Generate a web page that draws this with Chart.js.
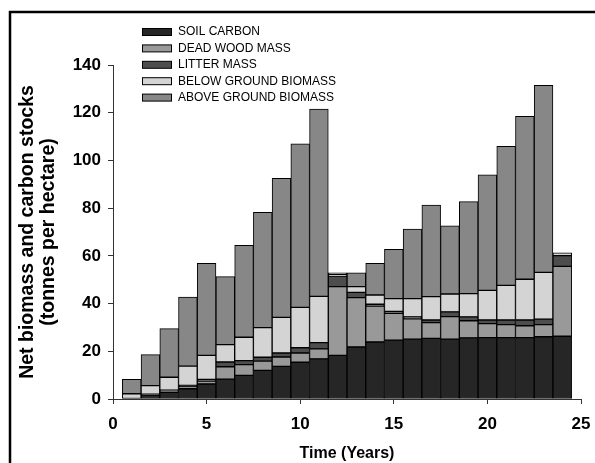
<!DOCTYPE html>
<html>
<head>
<meta charset="utf-8">
<script src="https://cdn.jsdelivr.net/npm/chart.js@4.4.1/dist/chart.umd.min.js"></script>
<style>
  html, body { margin: 0; padding: 0; background: #fff; }
  #wrap { position: relative; width: 595px; height: 463px; }
</style>
</head>
<body>
<div id="wrap"><canvas id="c" width="595" height="463"></canvas></div>
<script>
// ---- Data (tonnes per hectare) ----
const years = [1,2,3,4,5,6,7,8,9,10,11,12,13,14,15,16,17,18,19,20,21,22,23,24];
const soilCarbon = [0,1.6,2.8,4.3,6.3,8.3,9.9,12.0,13.7,15.4,16.8,18.3,21.8,23.9,24.7,25.1,25.4,25.1,25.6,25.7,25.7,25.7,26.1,26.3];
const deadWoodMass = [0,0,0.4,0.9,1.2,5.2,4.5,3.9,3.9,3.9,4.2,28.8,20.7,15.0,11.2,8.5,6.6,9.4,7.2,5.9,5.5,5.0,5.1,29.3];
const litterMass = [0,0.4,0.5,0.5,0.7,2.0,1.7,1.6,1.7,2.2,2.6,4.4,2.2,0.8,0.8,0.8,1.1,2.0,1.6,1.5,1.9,2.4,2.3,4.5];
const belowGroundBiomass = [2.2,3.6,5.4,8.1,10.1,7.3,9.8,12.4,14.9,16.9,19.4,0.6,2.4,3.9,5.4,7.7,9.8,7.5,9.8,12.4,14.5,17.1,19.6,1.2];
const aboveGroundBiomass = [6.0,13.0,20.4,28.9,38.6,28.5,38.5,48.3,58.3,68.6,78.5,0.8,5.8,13.3,20.6,29.1,38.4,28.6,38.5,48.5,58.3,68.3,78.4,0];
const seriesLabels = ['SOIL CARBON','DEAD WOOD MASS','LITTER MASS','BELOW GROUND BIOMASS','ABOVE GROUND BIOMASS'];
const xTicks = [0,5,10,15,20,25];
const yTicks = [0,20,40,60,80,100,120,140];

const colors = ['#262626','#999999','#4d4d4d','#d4d4d4','#878787'];
const seriesValues = [soilCarbon, deadWoodMass, litterMass, belowGroundBiomass, aboveGroundBiomass];

const datasets = seriesValues.map((vals, i) => ({
  label: seriesLabels[i],
  data: years.map((x, j) => ({ x: x, y: vals[j] })),
  backgroundColor: colors[i],
  borderColor: '#000',
  borderWidth: 1,
  borderSkipped: false,
  barPercentage: 1.0,
  categoryPercentage: 1.0
}));

const framePlugin = {
  id: 'frame',
  afterDraw(chart) {
    const ctx = chart.ctx;
    ctx.save();
    // outer frame (top and left edges)
    ctx.strokeStyle = '#000';
    ctx.lineWidth = 2.5;
    ctx.beginPath();
    ctx.moveTo(10, 463);
    ctx.lineTo(10, 12);
    ctx.lineTo(595, 12);
    ctx.stroke();
    // legend
    const x0 = 142, y0 = 32, step = 16.4;
    ctx.font = '12px "Liberation Sans", Arial, sans-serif';
    ctx.textBaseline = 'middle';
    chart.data.datasets.forEach((ds, i) => {
      const y = y0 + i * step;
      ctx.fillStyle = ds.backgroundColor;
      ctx.fillRect(x0, y - 3.5, 30, 7);
      ctx.strokeStyle = '#000';
      ctx.lineWidth = 1;
      ctx.strokeRect(x0 + 0.5, y - 3.5, 29, 7);
      ctx.fillStyle = '#000';
      ctx.fillText(ds.label, 178, y);
    });
    ctx.restore();
  }
};

new Chart(document.getElementById('c'), {
  type: 'bar',
  data: { datasets },
  options: {
    responsive: false,
    animation: false,
    devicePixelRatio: 1,
    layout: { padding: { left: 0, top: 65, right: 14, bottom: 0 } },
    plugins: { legend: { display: false }, tooltip: { enabled: false } },
    scales: {
      x: {
        type: 'linear',
        stacked: true,
        offset: false,
        min: 0, max: 25,
        afterBuildTicks(scale) { scale.ticks = xTicks.map(v => ({ value: v })); },
        afterFit(scale) { scale.height = 64; scale.paddingLeft = 0; scale.paddingRight = 0; },
        grid: { display: true, drawOnChartArea: false, drawTicks: true, tickLength: 5, color: '#333', offset: false },
        border: { display: true, color: '#333', width: 1 },
        ticks: {
          color: '#000', padding: 10,
          font: { family: '"Liberation Sans", Arial, sans-serif', size: 17, weight: 'bold' },
          maxRotation: 0, autoSkip: false
        },
        title: {
          display: true, text: 'Time (Years)', color: '#000',
          font: { family: '"Liberation Sans", Arial, sans-serif', size: 16, weight: 'bold' },
          padding: { top: 0, bottom: 0 }
        }
      },
      y: {
        stacked: true,
        min: 0, max: 140,
        afterBuildTicks(scale) { scale.ticks = yTicks.map(v => ({ value: v })); },
        afterFit(scale) { scale.width = 113; scale.paddingTop = 0; scale.paddingBottom = 0; },
        grid: { display: true, drawOnChartArea: false, drawTicks: true, tickLength: 5, color: '#333' },
        border: { display: true, color: '#333', width: 1 },
        ticks: {
          color: '#000', padding: 7,
          font: { family: '"Liberation Sans", Arial, sans-serif', size: 17, weight: 'bold' }
        },
        title: {
          display: true, text: ['Net biomass and carbon stocks', '(tonnes per hectare)'], color: '#000',
          font: { family: '"Liberation Sans", Arial, sans-serif', size: 19.5, weight: 'bold', lineHeight: 1.03 },
          padding: { top: 18, bottom: 0 }
        }
      }
    }
  },
  plugins: [framePlugin]
});
</script>
</body>
</html>
